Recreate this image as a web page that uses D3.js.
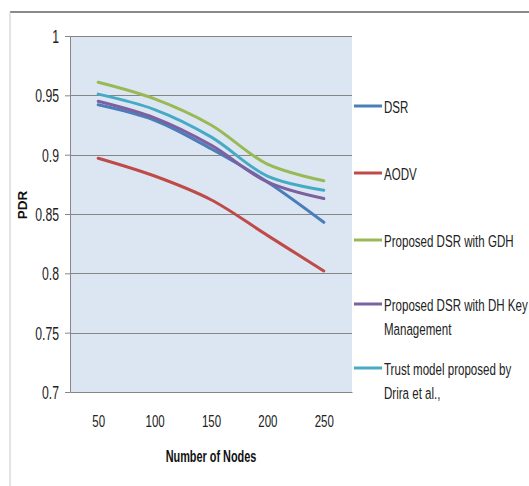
<!DOCTYPE html>
<html><head><meta charset="utf-8">
<script src="https://cdn.jsdelivr.net/npm/d3@7"></script>
<style>
html,body{margin:0;padding:0;background:#fff;}
svg{display:block;}
</style></head>
<body>
<script>
const categories = [50, 100, 150, 200, 250];
const dsr   = [0.942, 0.929, 0.905, 0.877, 0.843];
const aodv  = [0.897, 0.882, 0.862, 0.832, 0.802];
const gdh   = [0.961, 0.947, 0.925, 0.892, 0.878];
const dhKey = [0.945, 0.931, 0.908, 0.877, 0.863];
const trust = [0.951, 0.938, 0.915, 0.882, 0.870];
const seriesNames = [["DSR"], ["AODV"], ["Proposed DSR with GDH"], ["Proposed DSR with DH Key", "Management"], ["Trust model proposed by", "Drira et al.,"]];
const yTicks = [0.7, 0.75, 0.8, 0.85, 0.9, 0.95, 1];
const xTitle = "Number of Nodes";
const yTitle = "PDR";

const colors = ["#4A7EBB", "#BE4B48", "#98B954", "#7D60A0", "#46AAC5"];
const series = [dsr, aodv, gdh, dhKey, trust];

const W = 529, H = 486;
const plot = {l: 70, r: 352, t: 36, b: 392};
const SX = 0.68;
const cond = "'Liberation Sans', Arial, sans-serif";

const svg = d3.select("body").append("svg").attr("width", W).attr("height", H);

// outer chart border
svg.append("line").attr("x1", 10).attr("x2", W).attr("y1", 12).attr("y2", 12)
  .attr("stroke", "#8a8a8a").attr("stroke-width", 2);
svg.append("line").attr("x1", 10).attr("x2", 10).attr("y1", 12).attr("y2", H)
  .attr("stroke", "#d2d2d2").attr("stroke-width", 1.2);

const x = d3.scalePoint().domain(categories).range([plot.l, plot.r]).padding(0.5);
const y = d3.scaleLinear().domain([0.7, 1]).range([plot.b, plot.t]);

// plot background
svg.append("rect").attr("x", plot.l).attr("y", plot.t)
  .attr("width", plot.r - plot.l).attr("height", plot.b - plot.t)
  .attr("fill", "#DCE6F2");

// gridlines
svg.append("g").selectAll("line").data(yTicks.slice(1)).join("line")
  .attr("x1", plot.l).attr("x2", plot.r)
  .attr("y1", d => Math.round(y(d)) + 0.5).attr("y2", d => Math.round(y(d)) + 0.5)
  .attr("stroke", "#868686").attr("stroke-width", 1);

// y axis
const yAxis = svg.append("g").attr("transform", `translate(${plot.l},0)`)
  .call(d3.axisLeft(y).tickValues(yTicks).tickSize(5).tickPadding(8).tickFormat(d => String(+d.toFixed(2))));
yAxis.select(".domain").attr("stroke", "#868686");
yAxis.selectAll(".tick line").attr("stroke", "#868686");
yAxis.selectAll(".tick text")
  .attr("font-family", cond).attr("font-size", 18).attr("fill", "#222")
  .attr("x", -11 / SX).attr("dy", "0.36em")
  .attr("transform", `scale(${SX},1)`);

// x axis
const xAxis = svg.append("g").attr("transform", `translate(0,${plot.b})`)
  .call(d3.axisBottom(x).tickSize(0).tickPadding(0));
xAxis.select(".domain").attr("stroke", "#868686");
xAxis.selectAll(".tick text")
  .attr("font-family", cond).attr("font-size", 16).attr("fill", "#222")
  .attr("y", 35).attr("dy", 0)
  .attr("transform", `scale(0.72,1)`);

// axis titles
svg.append("text").attr("transform", `translate(211,461.5) scale(0.64,1)`)
  .attr("text-anchor", "middle").attr("font-family", cond).attr("font-weight", "bold")
  .attr("font-size", 17).attr("fill", "#111").text(xTitle);
svg.append("text").attr("transform", "translate(27,205) rotate(-90)")
  .attr("text-anchor", "middle").attr("font-family", cond)
  .attr("font-weight", "bold").attr("font-size", 13.5).attr("fill", "#111").text(yTitle);

// lines
const line = d3.line().x((d, i) => x(categories[i])).y(d => y(d)).curve(d3.curveCatmullRom.alpha(0.5));
svg.append("g").selectAll("path").data(series).join("path")
  .attr("d", d => line(d)).attr("fill", "none")
  .attr("stroke", (d, i) => colors[i]).attr("stroke-width", 3)
  .attr("stroke-linejoin", "round").attr("stroke-linecap", "round");

// legend
const legY = [106, 173, 240, 304, 368];
const leg = svg.append("g");
seriesNames.forEach((lines, i) => {
  leg.append("line").attr("x1", 354).attr("x2", 382).attr("y1", legY[i]).attr("y2", legY[i])
    .attr("stroke", colors[i]).attr("stroke-width", 3);
  lines.forEach((t, j) => {
    leg.append("text").attr("transform", `translate(384,${legY[i] + 6.5 + j * 24.5}) scale(${SX},1)`)
      .attr("font-family", cond).attr("font-size", 17).attr("fill", "#222").text(t);
  });
});
</script>
</body></html>
